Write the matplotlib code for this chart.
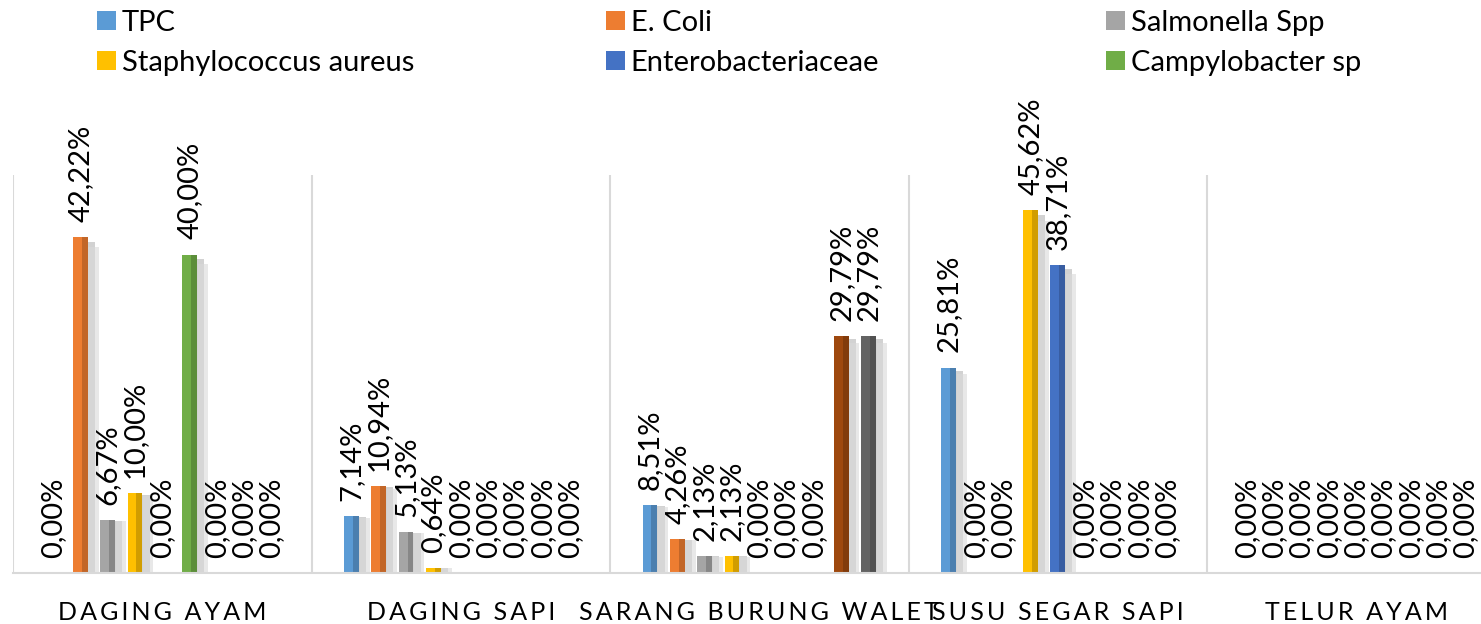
import numpy as np
import matplotlib.pyplot as plt
from matplotlib.patches import Patch
from matplotlib.colors import to_rgb

plt.rcParams['font.family'] = ['Lato', 'DejaVu Sans']

# Data (percent)
categories = ['DAGING AYAM', 'DAGING SAPI', 'SARANG BURUNG WALET', 'SUSU SEGAR SAPI', 'TELUR AYAM']
series_names = ['TPC', 'E. Coli', 'Salmonella Spp', 'Staphylococcus aureus',
                'Enterobacteriaceae', 'Campylobacter sp', 'Seri 7', 'Seri 8', 'Seri 9']
tpc = [0.00, 7.14, 8.51, 25.81, 0.00]
e_coli = [42.22, 10.94, 4.26, 0.00, 0.00]
salmonella = [6.67, 5.13, 2.13, 0.00, 0.00]
staph = [10.00, 0.64, 2.13, 45.62, 0.00]
entero = [0.00, 0.00, 0.00, 38.71, 0.00]
campy = [40.00, 0.00, 0.00, 0.00, 0.00]
seri7 = [0.00, 0.00, 0.00, 0.00, 0.00]
seri8 = [0.00, 0.00, 29.79, 0.00, 0.00]
seri9 = [0.00, 0.00, 29.79, 0.00, 0.00]
all_series = [tpc, e_coli, salmonella, staph, entero, campy, seri7, seri8, seri9]

colors = ['#5B9BD5', '#ED7D31', '#A5A5A5', '#FFC000', '#4472C4', '#70AD47',
          '#255E91', '#9E480E', '#636363']


def darken(c, f=0.75):
    r, g, b = to_rgb(c)
    return (r * f, g * f, b * f)


fig = plt.figure(figsize=(14.81, 6.24), dpi=100)
W_PX, H_PX = 1481, 624
ax = fig.add_axes([13 / W_PX, (H_PX - 573) / H_PX, 5 * 298.5 / W_PX, (573 - 175) / H_PX])

n_ser = len(all_series)
pitch = 0.0915
bw = 0.049
x = np.arange(len(categories))

for i, (vals, col) in enumerate(zip(all_series, colors)):
    vals = np.array(vals)
    xs = x + (i - (n_ser - 1) / 2) * pitch
    # soft shadow
    ax.bar(xs + bw * 0.55, vals * 0.985, width=bw * 0.9, color='#b5b5b5', alpha=0.6,
           linewidth=0, zorder=1)
    ax.bar(xs + bw * 0.9, vals * 0.97, width=bw * 0.7, color='#d9d9d9', alpha=0.6,
           linewidth=0, zorder=1)
    # bar body with darker right edge
    ax.bar(xs, vals, width=bw, color=col, linewidth=0, zorder=2)
    ax.bar(xs + bw * 0.3, vals, width=bw * 0.4, color=darken(col, 0.82), linewidth=0, zorder=2)
    for xi, v in zip(xs, vals):
        ax.annotate(f'{v:.2f}%'.replace('.', ','), (xi, v), xytext=(0, 11),
                    textcoords='offset points', rotation=90, ha='center', va='bottom',
                    fontsize=21, color='black', zorder=3)

ax.set_xlim(-0.5, len(categories) - 0.5)
ax.set_ylim(0, 50)
ax.set_yticks([])

spaced = ['\u2009'.join(c) for c in categories]
ax.set_xticks(x)
ax.set_xticklabels(spaced, fontsize=18, color='black')
ax.tick_params(axis='x', length=0, pad=20)
ax.set_xticks(np.arange(len(categories) + 1) - 0.5, minor=True)
ax.tick_params(axis='x', which='minor', length=0)
ax.grid(axis='x', which='minor', color='#D9D9D9', linewidth=1.5)
ax.set_axisbelow(True)
for s in ['top', 'right', 'left']:
    ax.spines[s].set_visible(False)
ax.spines['bottom'].set_color('#D9D9D9')
ax.spines['bottom'].set_linewidth(1.5)

# legend: three columns, two rows
handles = [Patch(facecolor=c, edgecolor='none') for c in colors[:6]]
col_x = [97, 606, 1106]
for k in range(3):
    hs = [handles[k], handles[k + 3]]
    ls = [series_names[k], series_names[k + 3]]
    fig.legend(hs, ls, loc='upper left', bbox_to_anchor=(col_x[k] / W_PX, 1 - 10 / H_PX),
               frameon=False, fontsize=21, borderpad=0, borderaxespad=0,
               handlelength=0.65, handleheight=0.65, handletextpad=0.2,
               labelspacing=0.48)

fig.savefig('out.png', dpi=100)
